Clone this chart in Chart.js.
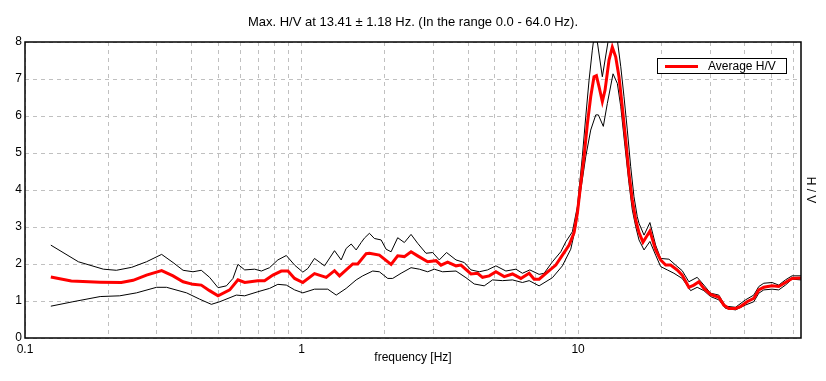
<!DOCTYPE html>
<html>
<head>
<meta charset="utf-8">
<script src="https://cdn.jsdelivr.net/npm/chart.js@4.4.0/dist/chart.umd.min.js"></script>
<style>
  html, body { margin: 0; padding: 0; background: #fff; }
  #wrap { width: 826px; height: 381px; }
</style>
</head>
<body>
<div id="wrap"><canvas id="hvChart" width="826" height="381"></canvas></div>
<script>
// frequency ticks (log axis) and labelled decades
const gridFreqs = [0.1, 0.2, 0.3, 0.4, 0.5, 0.6, 0.7, 0.8, 0.9, 1, 2, 3, 4, 5, 6, 7, 8, 9, 10, 20, 30, 40, 50, 60];
const labelFreqs = [0.1, 1, 10];

// average H/V curve
const avgFreq = [0.124,0.147,0.187,0.223,0.246,0.275,0.312,0.343,0.373,0.405,0.434,0.465,0.499,0.550,0.589,0.623,0.695,0.735,0.788,0.845,0.893,0.944,1.011,1.114,1.228,1.316,1.372,1.450,1.532,1.597,1.713,1.760,1.912,2.108,2.227,2.354,2.489,2.630,2.858,3.064,3.194,3.375,3.619,3.772,4.100,4.330,4.514,4.772,5.045,5.407,5.792,6.210,6.654,6.937,7.230,7.860,8.309,8.777,9.280,9.674,9.942,10.23,10.51,10.81,11.11,11.42,11.65,11.91,12.24,12.52,12.94,13.30,13.68,14.06,14.45,14.87,15.28,15.71,16.16,16.61,17.17,18.19,19.08,19.89,20.74,21.61,22.83,23.80,25.16,26.23,27.34,28.51,30.14,32.29,33.66,35.09,37.10,38.67,40.85,43.19,45.02,46.94,50.29,53.17,56.22,59.39,64];
const avgHV = [1.65,1.54,1.51,1.50,1.56,1.70,1.82,1.68,1.52,1.45,1.43,1.28,1.14,1.30,1.57,1.50,1.55,1.55,1.70,1.81,1.81,1.61,1.50,1.74,1.64,1.82,1.68,1.84,2.00,2.00,2.28,2.29,2.24,1.99,2.22,2.20,2.33,2.22,2.06,2.09,1.97,2.05,1.95,1.97,1.73,1.75,1.64,1.68,1.79,1.66,1.73,1.61,1.75,1.59,1.59,1.82,1.97,2.24,2.51,2.85,3.37,4.18,4.90,5.80,6.52,7.06,7.09,6.79,6.39,6.70,7.51,7.86,7.60,7.06,6.25,5.35,4.45,3.73,3.19,2.85,2.59,2.89,2.38,2.11,1.97,1.97,1.84,1.70,1.37,1.43,1.52,1.34,1.18,1.10,0.89,0.80,0.80,0.85,0.98,1.07,1.30,1.37,1.41,1.39,1.50,1.61,1.62];

// upper bound (avg * std)
const upperFreq = [0.124,0.156,0.192,0.214,0.243,0.275,0.312,0.343,0.373,0.405,0.434,0.465,0.499,0.535,0.565,0.589,0.623,0.677,0.716,0.766,0.821,0.881,0.944,1.011,1.054,1.114,1.211,1.316,1.391,1.450,1.512,1.576,1.643,1.688,1.760,1.834,1.940,2.022,2.108,2.227,2.354,2.489,2.630,2.819,2.979,3.149,3.345,3.619,3.877,4.100,4.392,4.706,5.045,5.483,5.960,6.293,6.693,7.230,7.539,8.078,8.660,9.028,9.537,9.942,10.36,10.66,10.96,11.26,11.52,11.74,12.24,12.83,13.38,13.87,14.27,14.66,15.07,15.50,15.93,16.37,16.61,17.32,18.19,19.08,19.89,21.31,22.53,23.80,25.16,26.96,28.51,30.14,32.29,34.14,37.10,40.30,43.19,45.02,46.94,50.29,53.17,56.22,59.39,64];
const upperHV = [2.51,2.06,1.86,1.83,1.91,2.06,2.26,2.04,1.83,1.79,1.83,1.64,1.36,1.41,1.61,1.99,1.84,1.86,1.81,1.90,2.11,2.23,1.97,1.78,1.88,2.15,1.95,2.36,2.11,2.42,2.54,2.38,2.58,2.70,2.83,2.69,2.65,2.40,2.33,2.71,2.58,2.80,2.56,2.29,2.31,2.11,2.31,2.11,2.04,1.84,1.79,1.84,1.95,1.81,1.86,1.75,1.84,1.72,1.75,2.06,2.33,2.60,2.87,3.55,4.90,5.98,6.97,7.78,8.35,8.0,7.06,8.0,8.8,8.05,7.33,6.52,5.62,4.63,3.82,3.28,3.10,2.78,3.12,2.51,2.15,2.13,1.97,1.82,1.52,1.64,1.43,1.21,1.16,0.86,0.83,1.03,1.16,1.39,1.48,1.50,1.43,1.57,1.68,1.68];

// lower bound (avg / std)
const lowerFreq = [0.124,0.149,0.187,0.220,0.253,0.299,0.325,0.384,0.428,0.472,0.506,0.581,0.623,0.695,0.766,0.821,0.881,0.944,1.011,1.114,1.244,1.335,1.450,1.576,1.665,1.809,1.912,2.050,2.136,2.291,2.489,2.667,2.858,3.020,3.236,3.619,3.932,4.212,4.578,4.905,5.331,5.792,6.293,6.654,7.230,8.078,8.777,9.410,9.810,10.23,10.66,11.11,11.59,11.84,12.34,12.76,13.38,13.87,14.27,14.78,15.28,15.71,16.16,16.61,17.32,18.19,19.08,19.89,21.02,22.22,23.80,25.53,26.96,28.51,30.14,32.29,34.14,37.10,40.30,43.19,45.02,46.94,50.29,53.17,56.22,59.39,64];
const lowerHV = [0.86,0.98,1.12,1.14,1.22,1.37,1.37,1.22,1.05,0.91,0.98,1.16,1.14,1.25,1.34,1.45,1.43,1.30,1.22,1.32,1.32,1.16,1.34,1.57,1.68,1.81,1.79,1.61,1.61,1.75,1.90,1.86,1.79,1.86,1.79,1.81,1.63,1.46,1.41,1.57,1.55,1.57,1.50,1.55,1.41,1.63,1.95,2.40,3.01,4.00,4.90,5.62,6.03,6.03,5.72,6.34,7.14,6.88,6.25,5.17,4.18,3.46,3.01,2.65,2.38,2.61,2.24,1.93,1.84,1.75,1.61,1.28,1.37,1.28,1.12,1.03,0.80,0.76,0.89,0.98,1.21,1.30,1.32,1.30,1.43,1.59,1.57];

const FONT = "'Liberation Sans', Arial, sans-serif";
const toPoints = (xs, ys) => xs.map((f, i) => ({ x: f, y: ys[i] }));

// black frame round the plot area
const framePlugin = {
    id: "frame",
    afterDatasetsDraw(chart) {
        const { ctx, chartArea: a } = chart;
        ctx.save();
        ctx.strokeStyle = "#000";
        ctx.lineWidth = 1.5;
        ctx.strokeRect(a.left, a.top, a.right - a.left, a.bottom - a.top);
        ctx.restore();
    }
};

// boxed legend in the upper right corner of the plot
const boxLegend = {
    id: "boxLegend",
    afterDraw(chart) {
        const { ctx, chartArea: a } = chart;
        const ds = chart.data.datasets[0];
        const x = a.right - 144, y = a.top + 16.5, w = 129, h = 15;
        ctx.save();
        ctx.fillStyle = "#fff";
        ctx.fillRect(x, y, w, h);
        ctx.strokeStyle = "#000";
        ctx.lineWidth = 1;
        ctx.strokeRect(x + 0.5, y, w, h);
        ctx.strokeStyle = ds.borderColor;
        ctx.lineWidth = 3;
        ctx.beginPath();
        ctx.moveTo(x + 8, y + 8);
        ctx.lineTo(x + 41, y + 8);
        ctx.stroke();
        ctx.fillStyle = "#000";
        ctx.font = "12px " + FONT;
        ctx.textBaseline = "middle";
        ctx.fillText(ds.label, x + 51, y + 8);
        ctx.restore();
    }
};

new Chart(document.getElementById("hvChart"), {
    type: "line",
    data: {
        datasets: [
            { label: "Average H/V", data: toPoints(avgFreq, avgHV), borderColor: "#ff0000", borderWidth: 3 },
            { label: "upper", data: toPoints(upperFreq, upperHV), borderColor: "#000000", borderWidth: 1 },
            { label: "lower", data: toPoints(lowerFreq, lowerHV), borderColor: "#000000", borderWidth: 1 }
        ]
    },
    options: {
        responsive: false,
        animation: false,
        events: [],
        elements: { point: { radius: 0 }, line: { tension: 0, fill: false } },
        layout: { padding: 0 },
        plugins: {
            legend: { display: false },
            tooltip: { enabled: false },
            title: {
                display: true,
                text: "Max. H/V at 13.41 ± 1.18 Hz. (In the range 0.0 - 64.0 Hz).",
                color: "#000",
                font: { family: FONT, size: 13, weight: "normal" },
                padding: { top: 14.4, bottom: 12 }
            }
        },
        scales: {
            x: {
                type: "logarithmic",
                min: 0.1,
                max: 64,
                afterBuildTicks: (scale) => { scale.ticks = gridFreqs.map(v => ({ value: v })); },
                afterFit: (scale) => { scale.height = 43; },
                grid: { color: "#c0c0c0", lineWidth: 1, drawTicks: false },
                border: { display: false, dash: [4, 4] },
                ticks: {
                    autoSkip: false,
                    maxRotation: 0,
                    padding: 4,
                    color: "#000",
                    font: { family: FONT, size: 12 },
                    callback: (v) => labelFreqs.includes(v) ? String(v) : ""
                },
                title: {
                    display: true,
                    text: "frequency [Hz]",
                    color: "#000",
                    font: { family: FONT, size: 12 },
                    padding: { top: 0, bottom: 15.8 }
                }
            },
            y: {
                type: "linear",
                min: 0,
                max: 8,
                afterFit: (scale) => { scale.width = 25; },
                grid: { color: "#c0c0c0", lineWidth: 1, drawTicks: false },
                border: { display: false, dash: [4, 4] },
                ticks: { stepSize: 1, padding: 3, color: "#000", font: { family: FONT, size: 12 } }
            },
            y2: {
                type: "linear",
                position: "right",
                min: 0,
                max: 8,
                afterFit: (scale) => { scale.width = 25; },
                grid: { display: false },
                border: { display: false },
                ticks: { display: false },
                title: {
                    display: true,
                    text: "H / V",
                    color: "#000",
                    font: { family: FONT, size: 12 },
                    padding: { top: 8.8, bottom: 0 }
                }
            }
        }
    },
    plugins: [framePlugin, boxLegend]
});
</script>
</body>
</html>
